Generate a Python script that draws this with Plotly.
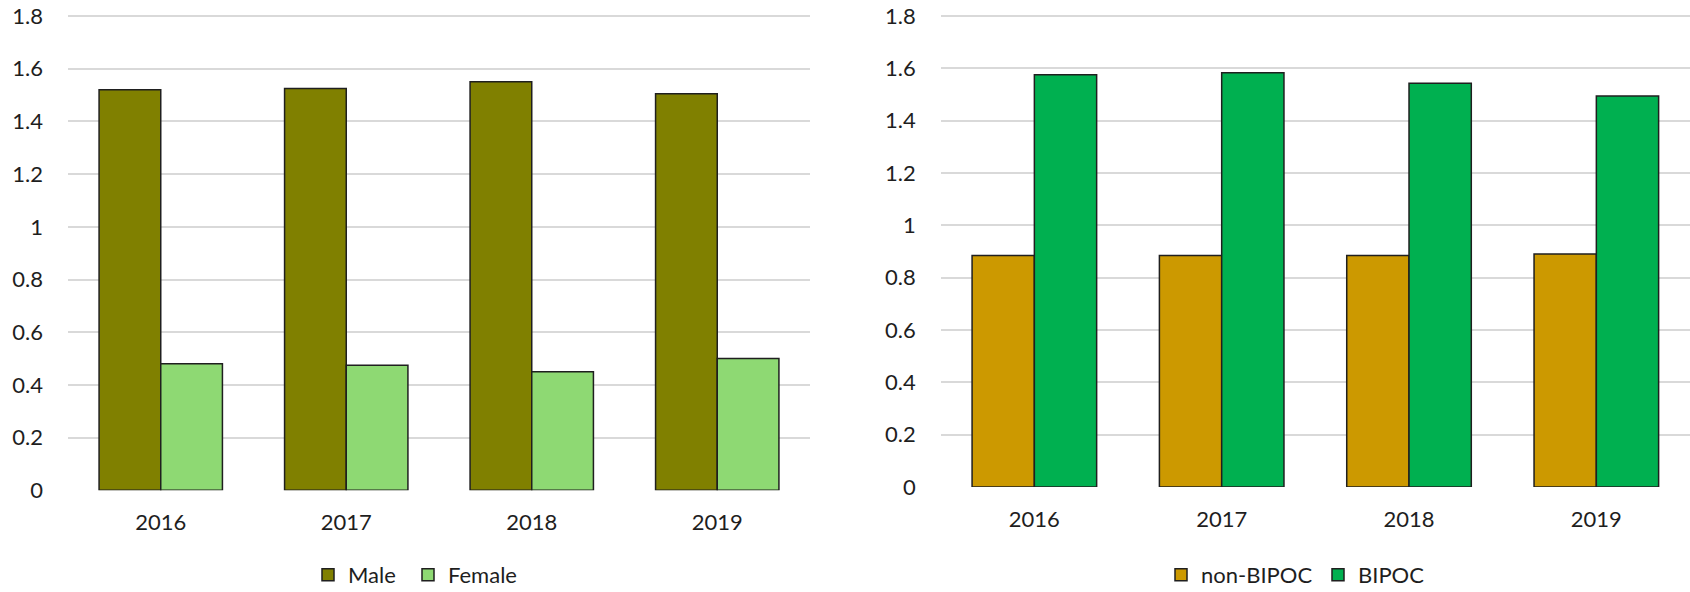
import plotly.graph_objects as go

years = ["2016", "2017", "2018", "2019"]
male = [1.52, 1.525, 1.55, 1.505]
female = [0.48, 0.475, 0.45, 0.50]
non_bipoc = [0.885, 0.885, 0.885, 0.89]
bipoc = [1.575, 1.583, 1.543, 1.494]
y_ticks = [0, 0.2, 0.4, 0.6, 0.8, 1, 1.2, 1.4, 1.6, 1.8]
y_tick_text = ["0", "0.2", "0.4", "0.6", "0.8", "1", "1.2", "1.4", "1.6", "1.8"]

W, H = 1690, 592
FONT = "Lato"
FS = 22
TXT = "#1e1e1e"
GRID = "#d9d9d9"
EDGE = "#1f1f1f"

fig = go.Figure()
fig.add_trace(go.Bar(x=years, y=male, name="Male", marker=dict(color="#808000", line=dict(color=EDGE, width=1.5)),
                     xaxis="x", yaxis="y", legend="legend"))
fig.add_trace(go.Bar(x=years, y=female, name="Female", marker=dict(color="#8ed973", line=dict(color=EDGE, width=1.5)),
                     xaxis="x", yaxis="y", legend="legend2"))
fig.add_trace(go.Bar(x=years, y=non_bipoc, name="non-BIPOC", marker=dict(color="#cc9900", line=dict(color=EDGE, width=1.5)),
                     xaxis="x2", yaxis="y2", legend="legend3"))
fig.add_trace(go.Bar(x=years, y=bipoc, name="BIPOC", marker=dict(color="#00b050", line=dict(color=EDGE, width=1.5)),
                     xaxis="x2", yaxis="y2", legend="legend4"))

def px_x(v):
    return v / W

def px_y(v):
    return 1 - v / H

# the top pixel of each plot lies a hair above the 1.8 gridline so that it is drawn
TOP = 1.805
yaxis_common = dict(range=[0, TOP], tickvals=y_ticks, ticktext=y_tick_text, showgrid=True, gridcolor=GRID,
                    gridwidth=1.5, zeroline=False, showline=False, ticks="", ticklabelstandoff=24,
                    tickfont=dict(family=FONT, size=FS, color=TXT), fixedrange=True, automargin=False)
xaxis_common = dict(showgrid=False, showline=False, zeroline=False, ticks="", ticklabelstandoff=17,
                    tickfont=dict(family=FONT, size=FS, color=TXT), type="category", automargin=False)

def dom(y0, y18):
    # y0: pixel of value 0, y18: pixel of value 1.8
    top_px = y0 - (y0 - y18) * TOP / 1.8
    return [px_y(y0), px_y(top_px)]

def leg(xpx):
    return dict(orientation="h", x=px_x(xpx), y=px_y(575), xanchor="left", yanchor="middle",
                font=dict(family=FONT, size=FS, color=TXT), bgcolor="rgba(0,0,0,0)", itemclick=False)

fig.update_layout(
    width=W, height=H, margin=dict(l=0, r=0, t=0, b=0, autoexpand=False),
    paper_bgcolor="white", plot_bgcolor="white",
    barmode="group", bargap=0.335, bargroupgap=0,
    xaxis=dict(domain=[px_x(68), px_x(810)], anchor="y", **xaxis_common),
    yaxis=dict(domain=dom(490.3, 16), anchor="x", **yaxis_common),
    xaxis2=dict(domain=[px_x(940.7), px_x(1690)], anchor="y2", **xaxis_common),
    yaxis2=dict(domain=dom(487, 16), anchor="x2", **yaxis_common),
    legend=leg(308),
    legend2=leg(408),
    legend3=leg(1161),
    legend4=leg(1318),
    showlegend=True,
)

fig.write_html("out.html")
